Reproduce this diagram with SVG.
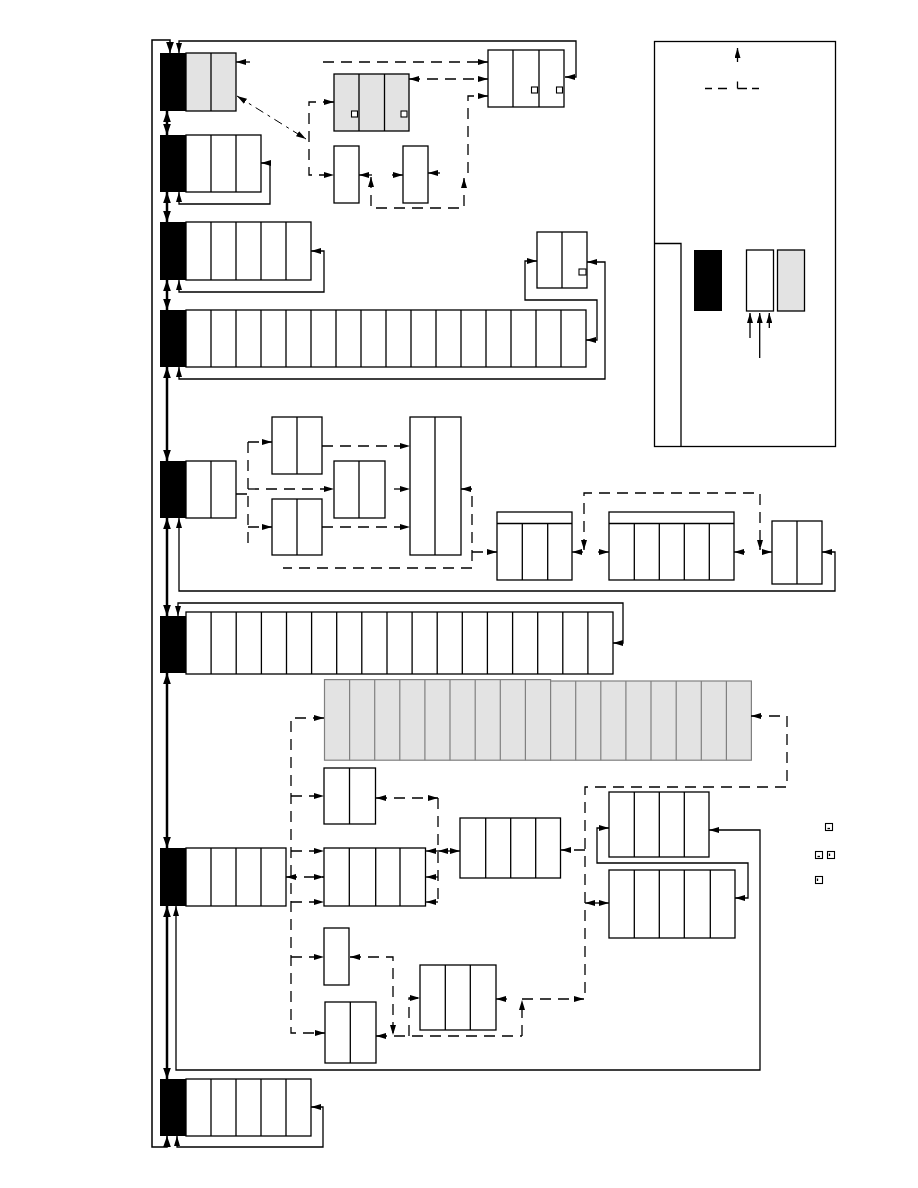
<svg xmlns="http://www.w3.org/2000/svg" width="918" height="1188" viewBox="0 0 918 1188">
<style>
.b{fill:#000}
.c{fill:#fff;stroke:#000;stroke-width:1.3}
.g{fill:#e3e3e3;stroke:#000;stroke-width:1.3}
.gg{fill:#e3e3e3;stroke:#808080;stroke-width:1.2}
.d{stroke:#000;stroke-width:1.3;fill:none}
.dg{stroke:#808080;stroke-width:1.2;fill:none}
.s{fill:none;stroke:#000;stroke-width:1.3}
.k{fill:none;stroke:#000;stroke-width:2.5}
.o{fill:none;stroke:#000;stroke-width:1.5}
.da{fill:none;stroke:#000;stroke-width:1.3;stroke-dasharray:11 7}
.dd{fill:none;stroke:#000;stroke-width:1;stroke-dasharray:9 5 3 5}
.sq{fill:#fff;stroke:#000;stroke-width:1.1}
</style>
<defs>
<marker id="a" viewBox="0 0 10 6" refX="10" refY="3" markerWidth="10" markerHeight="6" orient="auto-start-reverse" markerUnits="userSpaceOnUse"><path d="M0,0 L10,3 L0,6 z"/></marker>
<marker id="t" viewBox="0 0 10 7" refX="10" refY="3.5" markerWidth="11" markerHeight="8" orient="auto-start-reverse" markerUnits="userSpaceOnUse"><path d="M0,0 L10,3.5 L0,7 z"/></marker>
</defs>

<!-- left column nodes -->
<g id="n1"><rect class="b" x="160" y="53" width="26" height="58"/><rect class="g" x="186" y="53" width="50" height="58"/><path class="d" d="M211,53V111"/></g>
<g id="n2"><rect class="b" x="160" y="135" width="26" height="57"/><rect class="c" x="186" y="135" width="75" height="57"/><path class="d" d="M211,135V192M236,135V192"/></g>
<g id="n3"><rect class="b" x="160" y="222" width="26" height="58"/><rect class="c" x="186" y="222" width="125" height="58"/><path class="d" d="M211,222V280M236,222V280M261,222V280M286,222V280"/></g>
<g id="n4"><rect class="b" x="160" y="310" width="26" height="57"/><rect class="c" x="186" y="310" width="400" height="57"/><path class="d" d="M211,310V367M236,310V367M261,310V367M286,310V367M311,310V367M336,310V367M361,310V367M386,310V367M411,310V367M436,310V367M461,310V367M486,310V367M511,310V367M536,310V367M561,310V367"/></g>
<g id="n5"><rect class="b" x="160" y="461" width="26" height="57"/><rect class="c" x="186" y="461" width="50" height="57"/><path class="d" d="M211,461V518"/></g>
<g id="n6"><rect class="b" x="160" y="616" width="26" height="57"/><rect class="c" x="186" y="612" width="427" height="62"/><path class="d" d="M211.1,612V674M236.2,612V674M261.4,612V674M286.5,612V674M311.6,612V674M336.7,612V674M361.8,612V674M387,612V674M412.1,612V674M437.2,612V674M462.3,612V674M487.4,612V674M512.6,612V674M537.7,612V674M562.8,612V674M587.9,612V674"/></g>
<g id="n7"><rect class="b" x="160" y="848" width="26" height="58"/><rect class="c" x="186" y="848" width="100" height="58"/><path class="d" d="M211,848V906M236,848V906M261,848V906"/></g>
<g id="n8"><rect class="b" x="160" y="1079" width="26" height="57"/><rect class="c" x="186" y="1079" width="125" height="57"/><path class="d" d="M211,1079V1136M236,1079V1136M261,1079V1136M286,1079V1136"/></g>

<!-- top right cluster -->
<g id="p"><rect class="c" x="488" y="50" width="76" height="57"/><path class="d" d="M513,50V107M539,50V107"/><rect class="sq" x="531.5" y="87" width="6" height="6"/><rect class="sq" x="556.5" y="87" width="6" height="6"/></g>
<g id="q"><rect class="g" x="334" y="74" width="75" height="57"/><path class="d" d="M359,74V131M384.5,74V131"/><rect class="sq" x="351.5" y="111" width="6" height="6"/><rect class="sq" x="401" y="111" width="6" height="6"/></g>
<g id="r"><rect class="c" x="334" y="146" width="25" height="57"/></g>
<g id="s"><rect class="c" x="403" y="146" width="25" height="57"/></g>
<g id="t1"><rect class="c" x="537" y="232" width="50" height="56"/><path class="d" d="M562,232V288"/><rect class="sq" x="579" y="269" width="7" height="6"/></g>

<!-- legend -->
<g id="legend">
<rect class="s" x="654.5" y="41.5" width="181" height="405"/>
<path class="s" d="M654.5,243.5H681V446.5"/>
<rect class="b" x="694" y="250" width="28" height="61"/>
<rect class="c" x="746.5" y="250" width="27" height="61"/>
<rect class="g" x="777.5" y="250" width="27" height="61"/>
<path class="s" d="M705,88.5H712M718,88.5H727M737.5,88.5H747M752,88.5H759M737.5,81.5V88.5"/>
</g>

<!-- middle cluster -->
<g id="ba"><rect class="c" x="272" y="417" width="50" height="57"/><path class="d" d="M297,417V474"/></g>
<g id="bb"><rect class="c" x="272" y="499" width="50" height="56"/><path class="d" d="M297,499V555"/></g>
<g id="bc"><rect class="c" x="334" y="461" width="51" height="57"/><path class="d" d="M359,461V518"/></g>
<g id="bd"><rect class="c" x="410" y="417" width="51" height="138"/><path class="d" d="M435,417V555"/></g>
<g id="be"><rect class="c" x="497" y="512" width="75" height="68"/><path class="d" d="M497,523.5H572M522.3,523.5V580M547.7,523.5V580"/></g>
<g id="bf"><rect class="c" x="609" y="512" width="125" height="68"/><path class="d" d="M609,523.5H734M634.3,523.5V580M659.3,523.5V580M684.3,523.5V580M709.3,523.5V580"/></g>
<g id="bg"><rect class="c" x="772" y="521" width="50" height="63"/><path class="d" d="M797,521V584"/></g>

<!-- grey row -->
<g id="grey">
<rect class="gg" x="324.5" y="679.6" width="226.1" height="80.6"/>
<rect class="gg" x="550.6" y="681" width="200.8" height="79.2"/>
<path class="dg" d="M349.6,679.6V760.2M374.7,679.6V760.2M399.8,679.6V760.2M424.9,679.6V760.2M450,679.6V760.2M475.2,679.6V760.2M500.3,679.6V760.2M525.4,679.6V760.2M575.7,681V760.2M600.8,681V760.2M625.9,681V760.2M651,681V760.2M676.2,681V760.2M701.3,681V760.2M726.4,681V760.2"/>
</g>

<!-- lower cluster -->
<g id="bh"><rect class="c" x="324" y="768" width="51.5" height="56"/><path class="d" d="M349.5,768V824"/></g>
<g id="bi"><rect class="c" x="324" y="848" width="101.5" height="58"/><path class="d" d="M349.3,848V906M375.7,848V906M400,848V906"/></g>
<g id="bj"><rect class="c" x="324" y="928" width="25" height="57"/></g>
<g id="bk"><rect class="c" x="325" y="1002" width="51" height="61"/><path class="d" d="M350.3,1002V1063"/></g>
<g id="bl"><rect class="c" x="460" y="818" width="100.5" height="60"/><path class="d" d="M485.7,818V878M510.7,818V878M535.7,818V878"/></g>
<g id="bm"><rect class="c" x="609" y="792" width="100" height="65"/><path class="d" d="M634.3,792V857M659.3,792V857M684.3,792V857"/></g>
<g id="bn"><rect class="c" x="609" y="870" width="126" height="68"/><path class="d" d="M634.3,870V938M659.3,870V938M684.3,870V938M710.3,870V938"/></g>
<g id="bo"><rect class="c" x="420" y="965" width="76" height="65"/><path class="d" d="M445.3,965V1030M470.3,965V1030"/></g>

<!-- side icons -->
<g id="icons">
<rect class="sq" x="825.5" y="823.5" width="7" height="7"/><path class="d" d="M827.5,828.5H830"/>
<rect class="sq" x="815.5" y="851.5" width="7" height="7"/><path class="d" d="M817.5,856.5H820"/>
<rect class="sq" x="827.5" y="851.5" width="7" height="7"/><path class="d" d="M829.5,853.5V856"/>
<rect class="sq" x="815.5" y="876.5" width="7" height="7"/><path class="d" d="M817.5,878.5V881"/>
</g>

<!-- connectors -->
<g id="connectors">
<path class="k" marker-start="url(#t)" marker-end="url(#t)" d="M167,111V135"/>
<path class="k" marker-start="url(#t)" marker-end="url(#t)" d="M167,192V222"/>
<path class="k" marker-start="url(#t)" marker-end="url(#t)" d="M167,280V310"/>
<path class="k" marker-start="url(#t)" marker-end="url(#t)" d="M167,367V461"/>
<path class="k" marker-start="url(#t)" marker-end="url(#t)" d="M167,518V616"/>
<path class="k" marker-start="url(#t)" marker-end="url(#t)" d="M167,673V848"/>
<path class="k" marker-start="url(#t)" marker-end="url(#t)" d="M167,906V1079"/>
<path class="o" marker-start="url(#t)" marker-end="url(#t)" d="M167,1136V1147H152V40H170V53"/>

<path class="s" marker-start="url(#a)" marker-end="url(#a)" d="M179,53V41H576V77H565"/>
<path class="s" marker-end="url(#a)" d="M250,62H236"/>
<path class="dd" marker-start="url(#a)" marker-end="url(#a)" d="M237,96L306,139"/>
<path class="s" marker-start="url(#a)" marker-end="url(#a)" d="M179,192V204H270V163H261"/>
<path class="s" marker-start="url(#a)" marker-end="url(#a)" d="M179,280V292H324V251H311"/>
<path class="s" marker-start="url(#a)" marker-end="url(#a)" d="M179,367V379H605V262H587"/>
<path class="s" marker-start="url(#a)" marker-end="url(#a)" d="M537,261H525V300H597V340H586"/>
<path class="s" marker-start="url(#a)" marker-end="url(#a)" d="M822,552H835V591H179V518"/>
<path class="s" marker-start="url(#a)" marker-end="url(#a)" d="M178,616V603H623V643H613"/>
<path class="s" marker-start="url(#a)" marker-end="url(#a)" d="M709,830H760V1070H176V906"/>
<path class="s" marker-start="url(#a)" marker-end="url(#a)" d="M609,828H597V863H748V898H735"/>
<path class="s" marker-start="url(#a)" marker-end="url(#a)" d="M177,1136V1147H323V1107H311"/>

<path class="da" marker-end="url(#a)" d="M323,62H488"/>
<path class="da" marker-start="url(#a)" marker-end="url(#a)" d="M409,79H488"/>
<path class="da" marker-start="url(#a)" marker-end="url(#a)" d="M334,102H309V175H334"/>
<path class="s" marker-end="url(#a)" d="M372,175H359"/>
<path class="s" marker-end="url(#a)" d="M392,175H403"/>
<path class="s" marker-end="url(#a)" d="M440,173H428"/>
<path class="da" marker-start="url(#a)" marker-end="url(#a)" d="M371,177V208H464V178"/>
<path class="da" marker-end="url(#a)" d="M468,173V96H488"/>

<path class="s" marker-end="url(#a)" d="M737.5,62V48"/>
<path class="s" marker-end="url(#a)" d="M750,338V313"/>
<path class="s" marker-end="url(#a)" d="M759.7,358V313"/>
<path class="s" marker-end="url(#a)" d="M769.3,328V313"/>

<path class="da" d="M236,494H248M248,442V549"/>
<path class="da" marker-end="url(#a)" d="M248,442H272"/>
<path class="da" marker-end="url(#a)" d="M248,527H272"/>
<path class="da" marker-end="url(#a)" d="M248,489H334"/>
<path class="da" marker-end="url(#a)" d="M322,446H410"/>
<path class="da" marker-end="url(#a)" d="M394,489H410"/>
<path class="da" marker-end="url(#a)" d="M322,527H410"/>
<path class="da" marker-start="url(#a)" d="M461,489H472V568H283"/>
<path class="da" marker-end="url(#a)" d="M472,552H497"/>
<path class="s" marker-end="url(#a)" d="M583,552H572"/>
<path class="da" marker-start="url(#a)" marker-end="url(#a)" d="M584,550V493H760V550"/>
<path class="s" marker-end="url(#a)" d="M598,552H609"/>
<path class="s" marker-end="url(#a)" d="M745,552H734"/>
<path class="s" marker-end="url(#a)" d="M763,552H772"/>

<path class="da" marker-start="url(#a)" marker-end="url(#a)" d="M324,718H291V1033H325"/>
<path class="da" marker-start="url(#a)" d="M751,716H787V787H585V999"/>
<path class="da" marker-end="url(#a)" d="M585,850H561"/>
<path class="s" marker-start="url(#a)" marker-end="url(#a)" d="M585,903H609"/>
<path class="da" marker-end="url(#a)" d="M522,999H584"/>
<path class="da" marker-end="url(#a)" d="M522,1036V1000"/>
<path class="s" marker-end="url(#a)" d="M507,999H496"/>
<path class="da" marker-end="url(#a)" d="M291,796H324"/>
<path class="da" marker-end="url(#a)" d="M291,851H324"/>
<path class="da" marker-start="url(#a)" marker-end="url(#a)" d="M286,877H324"/>
<path class="da" marker-end="url(#a)" d="M291,902H324"/>
<path class="da" marker-end="url(#a)" d="M291,957H324"/>
<path class="da" marker-start="url(#a)" marker-end="url(#a)" d="M376,798H438"/>
<path class="da" d="M438,798V903"/>
<path class="s" marker-end="url(#a)" d="M438,851H426"/>
<path class="s" marker-end="url(#a)" d="M438,877H426"/>
<path class="s" marker-end="url(#a)" d="M438,902H426"/>
<path class="s" marker-start="url(#a)" marker-end="url(#a)" d="M438,851H460"/>
<path class="da" marker-start="url(#a)" marker-end="url(#a)" d="M350,957H393V1035"/>
<path class="da" marker-start="url(#a)" d="M376,1036H522"/>
<path class="da" marker-end="url(#a)" d="M409,1036V998H420"/>
</g>
</svg>
